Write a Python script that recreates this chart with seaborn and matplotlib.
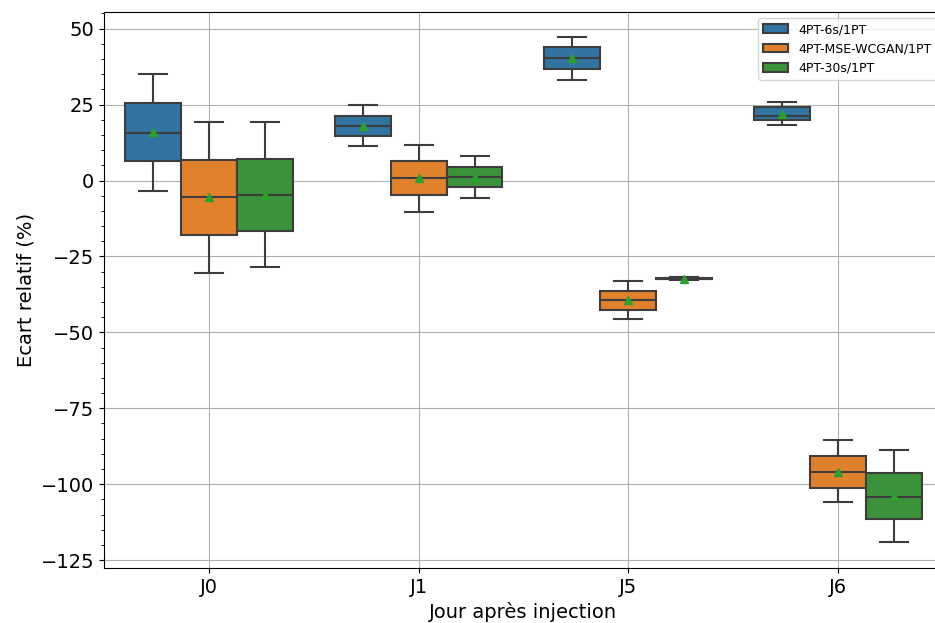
import numpy as np
import pandas as pd
import seaborn as sns
import matplotlib.pyplot as plt
from matplotlib.ticker import AutoMinorLocator

# days on the x axis and the three methods (hue)
days = ["J0", "J1", "J5", "J6"]
methods = ["4PT-6s/1PT", "4PT-MSE-WCGAN/1PT", "4PT-30s/1PT"]

# five values per day: min, q1, median, q3, max
ecart_6s = [
    [-3.3, 6.3, 15.8, 25.5, 35.1],
    [11.3, 14.6, 18.1, 21.4, 25.0],
    [33.0, 36.6, 40.2, 43.9, 47.4],
    [18.4, 20.0, 21.4, 24.1, 26.0],
]
ecart_wcgan = [
    [-30.4, -17.9, -5.4, 6.7, 19.4],
    [-10.3, -4.7, 0.7, 6.4, 11.7],
    [-45.7, -42.7, -39.5, -36.3, -33.2],
    [-106.0, -101.1, -96.0, -90.6, -85.6],
]
ecart_30s = [
    [-28.5, -16.5, -4.7, 7.1, 19.1],
    [-5.6, -2.2, 1.1, 4.4, 8.1],
    [-32.8, -32.5, -32.3, -32.1, -31.8],
    [-119.2, -111.5, -104.1, -96.2, -88.6],
]

rows = []
for meth, series in zip(methods, [ecart_6s, ecart_wcgan, ecart_30s]):
    for day, vals in zip(days, series):
        for v in vals:
            rows.append({"Jour": day, "Methode": meth, "Ecart": v})
df = pd.DataFrame(rows)

fig = plt.figure(figsize=(9.35, 6.23), dpi=100)
ax = fig.add_axes([0.1112, 0.0883, 0.8973, 0.8925])

sns.boxplot(data=df, x="Jour", y="Ecart", hue="Methode", order=days,
            hue_order=methods, palette="tab10", showmeans=True, ax=ax,
            linewidth=1.5)

ax.set_xlim(-0.5, 3.5)
ax.set_ylim(-127.6, 55.5)
ax.yaxis.set_minor_locator(AutoMinorLocator(5))
ax.grid(True, which="major", color="#b0b0b0", linewidth=0.8)
ax.set_axisbelow(True)
ax.tick_params(axis="both", which="major", labelsize=14)
ax.set_xlabel("Jour après injection", fontsize=14)
ax.set_ylabel("Ecart relatif (%)", fontsize=14)
ax.legend(loc="upper right", fontsize=9, title=None)

fig.savefig("out.png", dpi=100)
